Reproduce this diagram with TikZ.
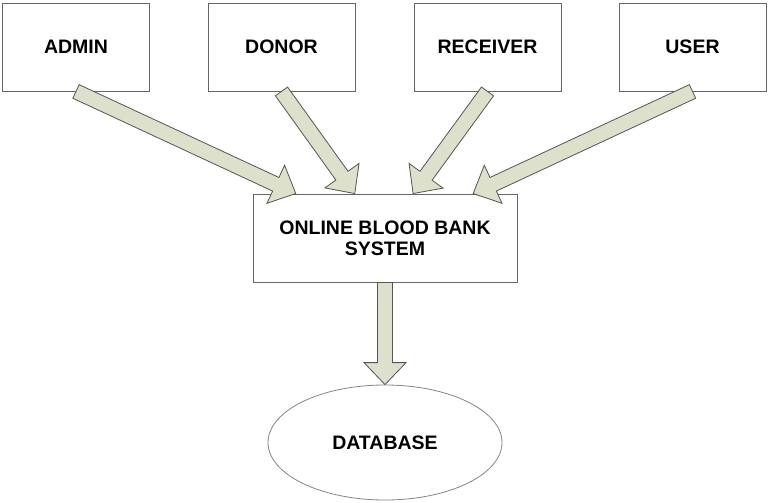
\documentclass[tikz,border=0pt]{standalone}
\usepackage{fontspec}
\setmainfont{Liberation Sans}
\usetikzlibrary{calc,shapes.geometric}

\definecolor{arrowfill}{HTML}{DDE0CA}
\definecolor{arrowline}{HTML}{555555}
\definecolor{boxline}{HTML}{666666}

\tikzset{
  labelfont/.style={font=\fontsize{19.5}{21}\selectfont\bfseries},
  entity/.style={draw=boxline, line width=0.9pt, fill=white, labelfont,
    minimum width=147pt, minimum height=88pt, inner sep=0pt, align=center},
  system/.style={entity, minimum width=264pt},
  store/.style={ellipse, draw=boxline!80, line width=0.8pt, fill=white, labelfont,
    minimum width=234pt, minimum height=115pt, inner sep=0pt},
  blockarrow/.style={draw=arrowline, fill=arrowfill, line width=0.8pt, line join=miter},
}

% Block arrow from node anchor #1 (tail) to #2 (tip)
\newcommand\flowarrow[2]{%
  \path ($(#2)!22pt!(#1)$) coordinate (fa-h);
  \draw[blockarrow]
    ($(#1)!7.5pt!90:(#2)$) -- ($(fa-h)!7.5pt!90:(#2)$) --
    ($(fa-h)!21pt!90:(#2)$) -- (#2) --
    ($(fa-h)!21pt!-90:(#2)$) -- ($(fa-h)!7.5pt!-90:(#2)$) --
    ($(#1)!7.5pt!-90:(#2)$) -- cycle;
}

\begin{document}
\begin{tikzpicture}[x=1pt, y=-1pt]
  \useasboundingbox[fill=white] (0,0) rectangle (768,503);

  % actors
  \node[entity] (admin)    at (76,47)    {ADMIN};
  \node[entity] (donor)    at (281.5,47) {DONOR};
  \node[entity] (receiver) at (487.5,47) {RECEIVER};
  \node[entity] (user)     at (692.5,47) {USER};

  % central system and its store
  \node[system] (sys) at (385,238) {ONLINE BLOOD BANK\\SYSTEM};
  \node[store]  (db)  at (385,442.5) {DATABASE};

  % entry points on the top edge of the system box
  \coordinate (in-admin)    at ($(sys.north west)!0.163!(sys.north east)$);
  \coordinate (in-donor)    at ($(sys.north west)!0.386!(sys.north east)$);
  \coordinate (in-receiver) at ($(sys.north west)!0.606!(sys.north east)$);
  \coordinate (in-user)     at ($(sys.north west)!0.833!(sys.north east)$);

  \flowarrow{admin.south}{in-admin}
  \flowarrow{donor.south}{in-donor}
  \flowarrow{receiver.south}{in-receiver}
  \flowarrow{user.south}{in-user}
  \flowarrow{sys.south}{db.north}
\end{tikzpicture}
\end{document}
